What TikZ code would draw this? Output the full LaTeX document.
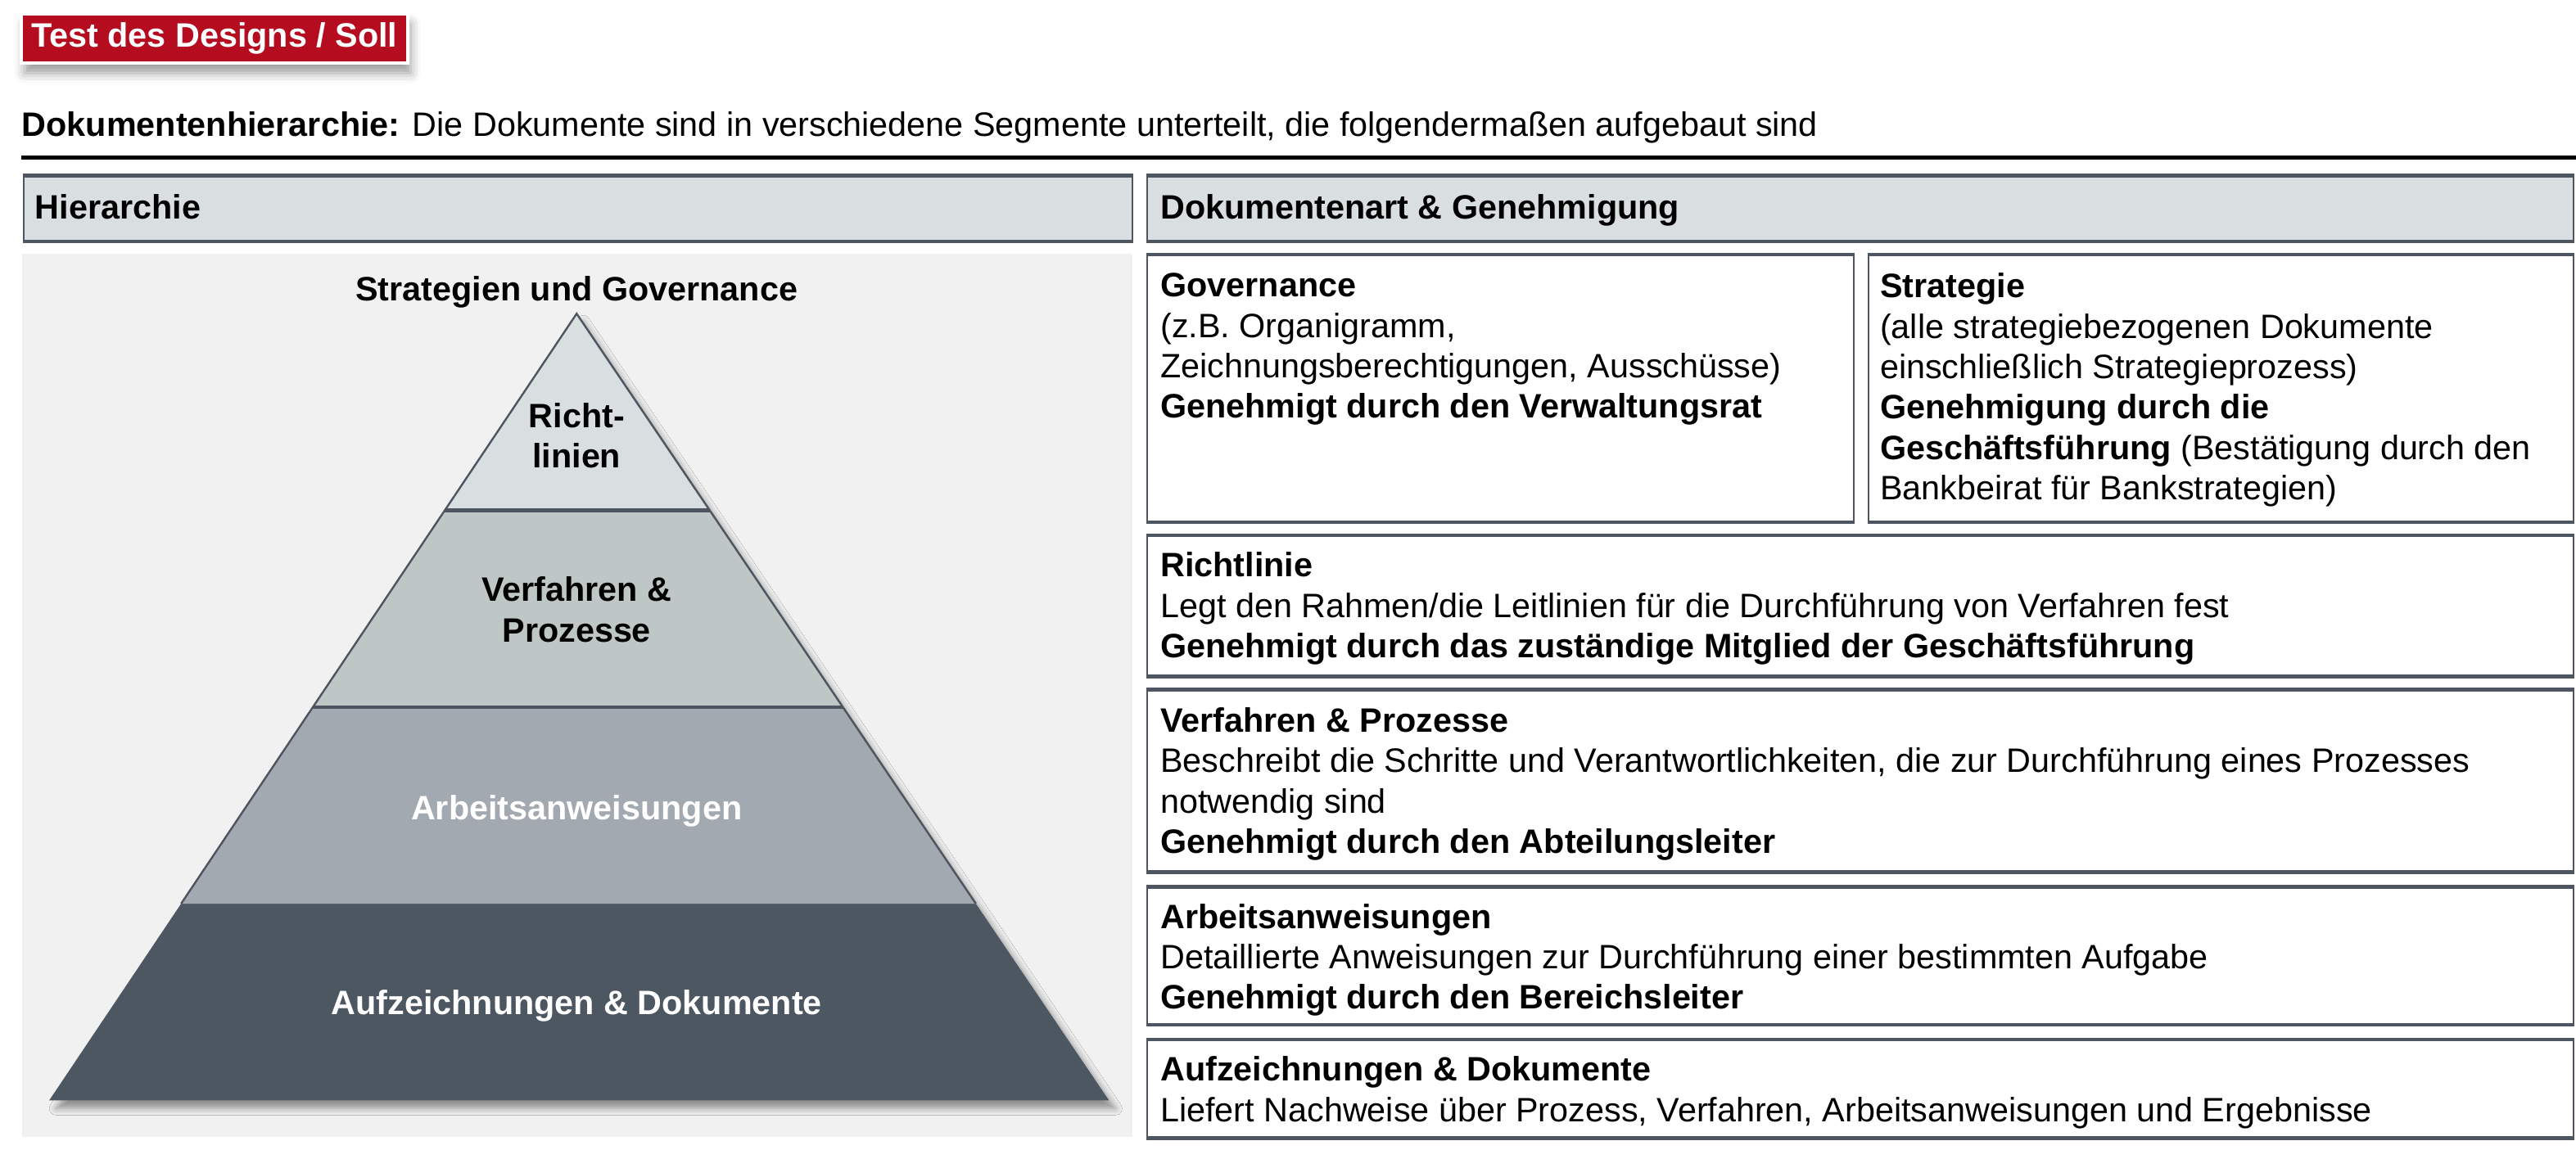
\documentclass[tikz,border=0pt]{standalone}
\usepackage{fontspec}
\setmainfont{Liberation Sans}
\usetikzlibrary{calc,shadows.blur}
\definecolor{dbred}{HTML}{B50D1F}
\definecolor{lnc}{HTML}{4D5660}
\definecolor{hdr}{HTML}{D9DEE0}
\definecolor{pnl}{HTML}{F1F1F1}
\definecolor{lv1}{HTML}{D9DEE0}
\definecolor{lv2}{HTML}{BFC7C6}
\definecolor{lv3}{HTML}{A2A9B0}
\definecolor{lv4}{HTML}{4D5761}
\begin{document}
\begin{tikzpicture}[x=0.5pt,y=-0.5pt,
	box/.style={draw=lnc,line width=0.5pt,inner sep=0pt,anchor=north west},
	hbox/.style={box,fill=hdr},
	txt/.style={inner sep=0pt,anchor=north west,align=left,font=\fontsize{10.3}{12.3}\selectfont},
	lvl/.style={inner sep=0pt,align=center,font=\fontsize{10.3}{12.3}\selectfont\bfseries},
	bar/.style={lnc,line width=1.1pt}]
			\useasboundingbox (0,0) rectangle (1568,700);
			\node[fill=dbred,draw=white,line width=1pt,text=white,inner sep=0pt,minimum width=117.5pt,minimum height=15pt,
				font=\fontsize{10.3}{12}\selectfont\bfseries,blur shadow={shadow xshift=1pt,shadow yshift=-3pt,shadow blur radius=3pt}](ttl) at (130.5,23.5){Test des Designs / Soll};
			\node[inner sep=0pt,anchor=base west,font=\fontsize{10.3}{12}\selectfont](sub) at (13,83){\textbf{Dokumentenhierarchie:} Die Dokumente sind in verschiedene Segmente unterteilt, die folgendermaßen aufgebaut sind};
			\coordinate (ra) at (13,96);
			\coordinate (rb) at (1568,96);
			\draw[line width=1.2pt](ra)--(rb);
			
			\node[hbox,minimum width=337.5pt,minimum height=19.5pt](hier) at (14,107){};
			\node[hbox,minimum width=434pt,minimum height=19.5pt](dart) at (698,107){};
			\node[inner sep=0pt,anchor=base west,font=\fontsize{10.3}{12}\selectfont\bfseries] at ($(hier.west)+(7,6.5)$){Hierarchie};
			\node[inner sep=0pt,anchor=base west,font=\fontsize{10.3}{12}\selectfont\bfseries] at ($(dart.west)+(8,6.5)$){Dokumentenart \& Genehmigung};
			
			\node[fill=pnl,inner sep=0pt,anchor=north west,minimum width=338pt,minimum height=269pt](pnl) at (13,154){};
			
			\coordinate (apex) at (351,191);
			\coordinate (bl) at (30,670);
			\coordinate (br) at (675,670);
			\coordinate (l1) at ($(apex)!0.25!(bl)$);
			\coordinate (r1) at ($(apex)!0.25!(br)$);
			\coordinate (l2) at ($(apex)!0.5!(bl)$);
			\coordinate (r2) at ($(apex)!0.5!(br)$);
			\coordinate (l3) at ($(apex)!0.75!(bl)$);
			\coordinate (r3) at ($(apex)!0.75!(br)$);
			\fill[lv4,blur shadow={shadow xshift=2pt,shadow yshift=-2.5pt,shadow blur radius=2pt}](apex)--(br)--(bl)--cycle;
			\fill[lv3](apex)--(r3)--(l3)--cycle;
			\fill[lv2](apex)--(r2)--(l2)--cycle;
			\fill[lv1](apex)--(r1)--(l1)--cycle;
			\draw[lnc,line width=0.6pt](l3)--(apex)--(r3);
			\draw[lnc,line width=1.1pt](l1)--(r1);
			\draw[lnc,line width=1.1pt](l2)--(r2);
			
			\node[lvl,anchor=base](top) at (351,183){Strategien und Governance};
			\node[lvl,anchor=north](p1) at (351,245){Richt-\\linien};
			\node[lvl,anchor=north](p2) at (351,351){Verfahren \&\\Prozesse};
			\node[lvl,anchor=base,text=white](p3) at (351,499){Arbeitsanweisungen};
			\node[lvl,anchor=base,text=white](p4) at (351,618){Aufzeichnungen \& Dokumente};
			
			\node[box,minimum width=215pt,minimum height=81pt](gov) at (698,155){};
			\node[box,minimum width=214.5pt,minimum height=81pt](str) at (1137,155){};
			\node[box,minimum width=434pt,minimum height=42.5pt](rl) at (698,326){};
			\node[box,minimum width=434pt,minimum height=55pt](vp) at (698,420){};
			\node[box,minimum width=434pt,minimum height=41.5pt](aa) at (698,540){};
			\node[box,minimum width=434pt,minimum height=29.5pt](ad) at (698,633){};
			\foreach \b in {hier,dart,gov,str,rl,vp,aa,ad}{
				\draw[bar](\b.north west)--(\b.north east);
				\draw[bar](\b.south west)--(\b.south east);
			}
			
			\node[txt] at ($(gov.north west)+(8,11)$){\textbf{Governance}\\(z.B. Organigramm,\\Zeichnungsberechtigungen, Ausschüsse)\\\textbf{Genehmigt durch den Verwaltungsrat}};
			\node[txt] at ($(str.north west)+(7,11)$){\textbf{Strategie}\\(alle strategiebezogenen Dokumente\\einschließlich Strategieprozess)\\\textbf{Genehmigung durch die}\\\textbf{Geschäftsführung} (Bestätigung durch den\\Bankbeirat für Bankstrategien)};
			\node[txt] at ($(rl.north west)+(8,10)$){\textbf{Richtlinie}\\Legt den Rahmen/die Leitlinien für die Durchführung von Verfahren fest\\\textbf{Genehmigt durch das zuständige Mitglied der Geschäftsführung}};
			\node[txt] at ($(vp.north west)+(8,10.5)$){\textbf{Verfahren \& Prozesse}\\Beschreibt die Schritte und Verantwortlichkeiten, die zur Durchführung eines Prozesses\\notwendig sind\\\textbf{Genehmigt durch den Abteilungsleiter}};
			\node[txt] at ($(aa.north west)+(8,10)$){\textbf{Arbeitsanweisungen}\\Detaillierte Anweisungen zur Durchführung einer bestimmten Aufgabe\\\textbf{Genehmigt durch den Bereichsleiter}};
			\node[txt] at ($(ad.north west)+(8,10)$){\textbf{Aufzeichnungen \& Dokumente}\\Liefert Nachweise über Prozess, Verfahren, Arbeitsanweisungen und Ergebnisse};
		\end{tikzpicture}
\end{document}
